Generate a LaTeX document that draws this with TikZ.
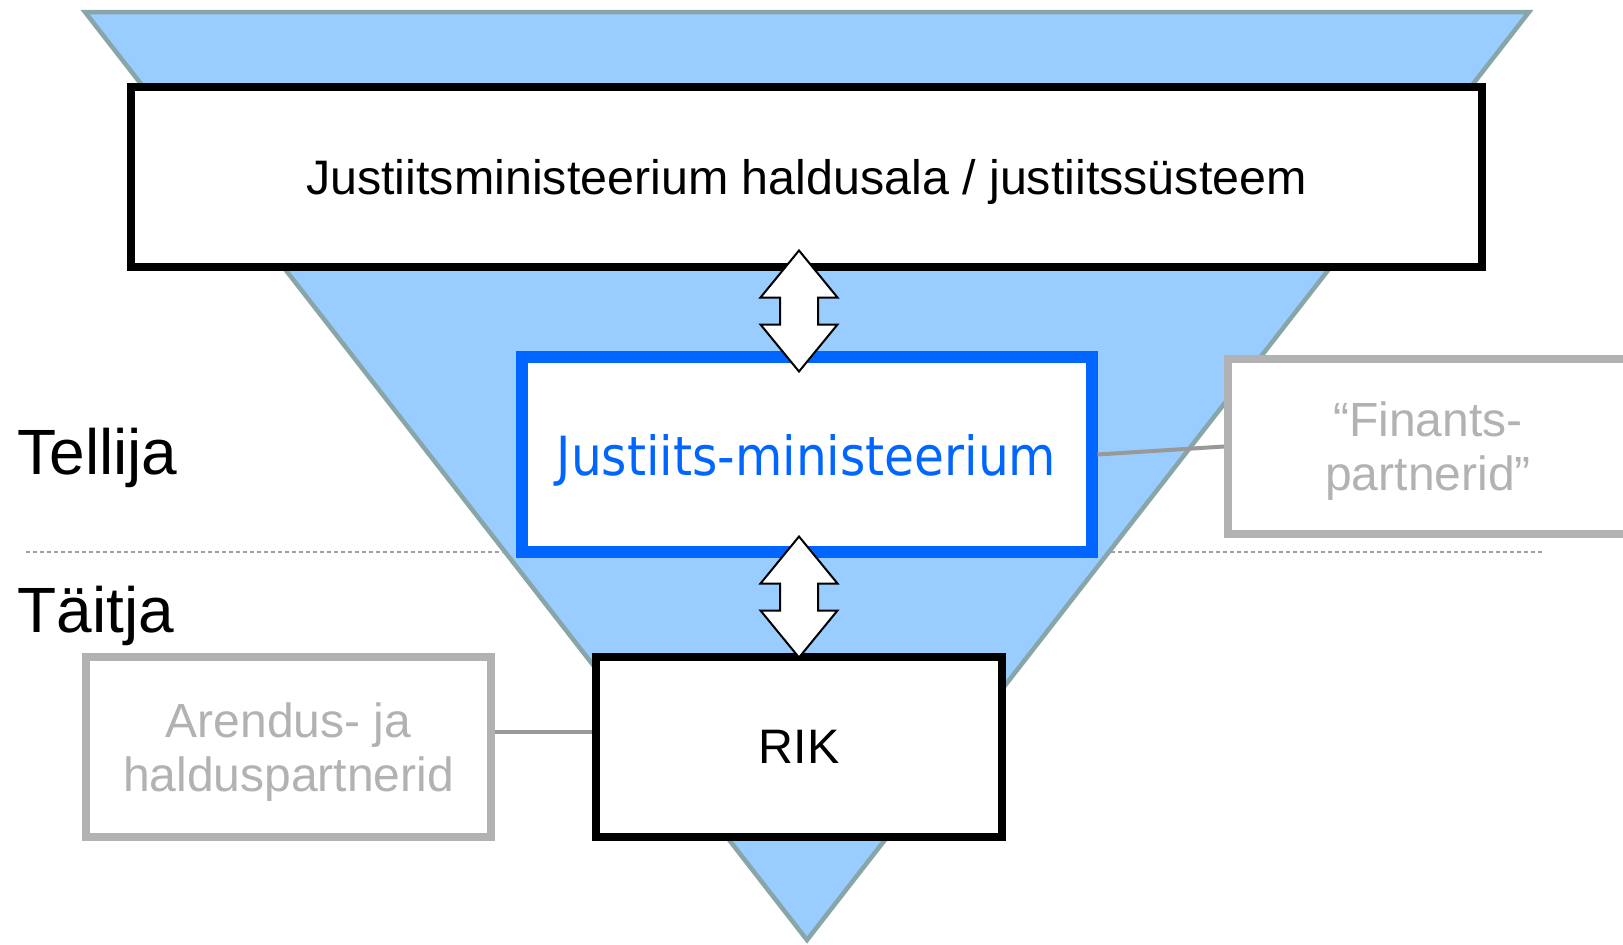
\documentclass[tikz,border=0pt]{standalone}
\usepackage{fontspec}
\setmainfont{Liberation Sans}
\newfontfamily\tahfont[FakeStretch=0.9]{DejaVu Sans}
\usetikzlibrary{calc}
\definecolor{trifill}{HTML}{99CCFF}
\definecolor{tristroke}{HTML}{88A5A8}
\definecolor{jmblue}{HTML}{0066FF}
\definecolor{boxgray}{HTML}{B2B2B2}
\definecolor{linegray}{HTML}{999999}
\definecolor{dashgray}{HTML}{A0A0A0}
\newcommand\dblarrowat[1]{\draw[dblarrow] ($(#1)+(0,-60.5)$) -- ++(38.5,47) -- ++(-19.5,0) -- ++(0,27) -- ++(19.5,0) -- ++(-38.5,47) -- ++(-38.5,-47) -- ++(19.5,0) -- ++(0,-27) -- ++(-19.5,0) -- cycle;}
\begin{document}
\begin{tikzpicture}[x=0.5pt,y=-0.5pt,
 blackbox/.style={draw=black,line width=4pt,fill=white,inner sep=0pt,text depth=0pt,align=center,font=\fontsize{24.2pt}{27pt}\selectfont},
 bluebox/.style={draw=jmblue,line width=6pt,fill=white,inner sep=0pt,text depth=0pt,text=jmblue,font=\tahfont\fontsize{27pt}{30pt}\selectfont},
 graybox/.style={draw=boxgray,line width=4pt,fill=white,inner sep=0pt,text depth=0pt,align=center,text=boxgray,font=\fontsize{24pt}{27pt}\selectfont},
 link/.style={draw=linegray,line width=2pt},
 dblarrow/.style={draw=black,line width=1pt,fill=white,line join=miter},
 sidelabel/.style={anchor=base west,inner sep=0pt,font=\fontsize{32pt}{36pt}\selectfont}]
\useasboundingbox (0,0) rectangle (1623,944);
\draw[dashgray,line width=0.6pt,dash pattern=on 2pt off 1.5pt] (26,552) -- (1542,552);
\draw[tristroke,line width=2.25pt,fill=trifill,line join=miter] (85,12) -- (1529,12) -- (807,940) -- cycle;
\node[blackbox,minimum width=675.5pt,minimum height=90pt] (top) at (806.5,177) {Justiitsministeerium haldusala / justiitssüsteem};
\node[bluebox,minimum width=285pt,minimum height=97.5pt] (jm) at (806.5,454.5) {Justiits-ministeerium};
\node[blackbox,minimum width=203pt,minimum height=90pt] (rik) at (799,747) {RIK};
\node[graybox,minimum width=202.5pt,minimum height=90pt] (ar) at (288.5,747) {Arendus- ja\\halduspartnerid};
\node[graybox,minimum width=200pt,minimum height=87.5pt] (fin) at (1428,446.5) {“Finants-\\partnerid”};
\draw[link] (jm.east) -- (fin.west);
\draw[link] ([yshift=7.5pt]ar.east) -- ([yshift=7.5pt]rik.west);
\coordinate (arr1) at ($(rik.center |- top.south)!0.5!(rik.center |- jm.north)$);
\coordinate (arr2) at ($($(rik.center |- jm.south)!0.5!(rik.center |- rik.north)$)+(0,-8.5)$);
\dblarrowat{arr1}
\dblarrowat{arr2}
\node[sidelabel] (tel) at (17,474) {Tellija};
\node[sidelabel] (tai) at (17,632) {Täitja};
\end{tikzpicture}
\end{document}
